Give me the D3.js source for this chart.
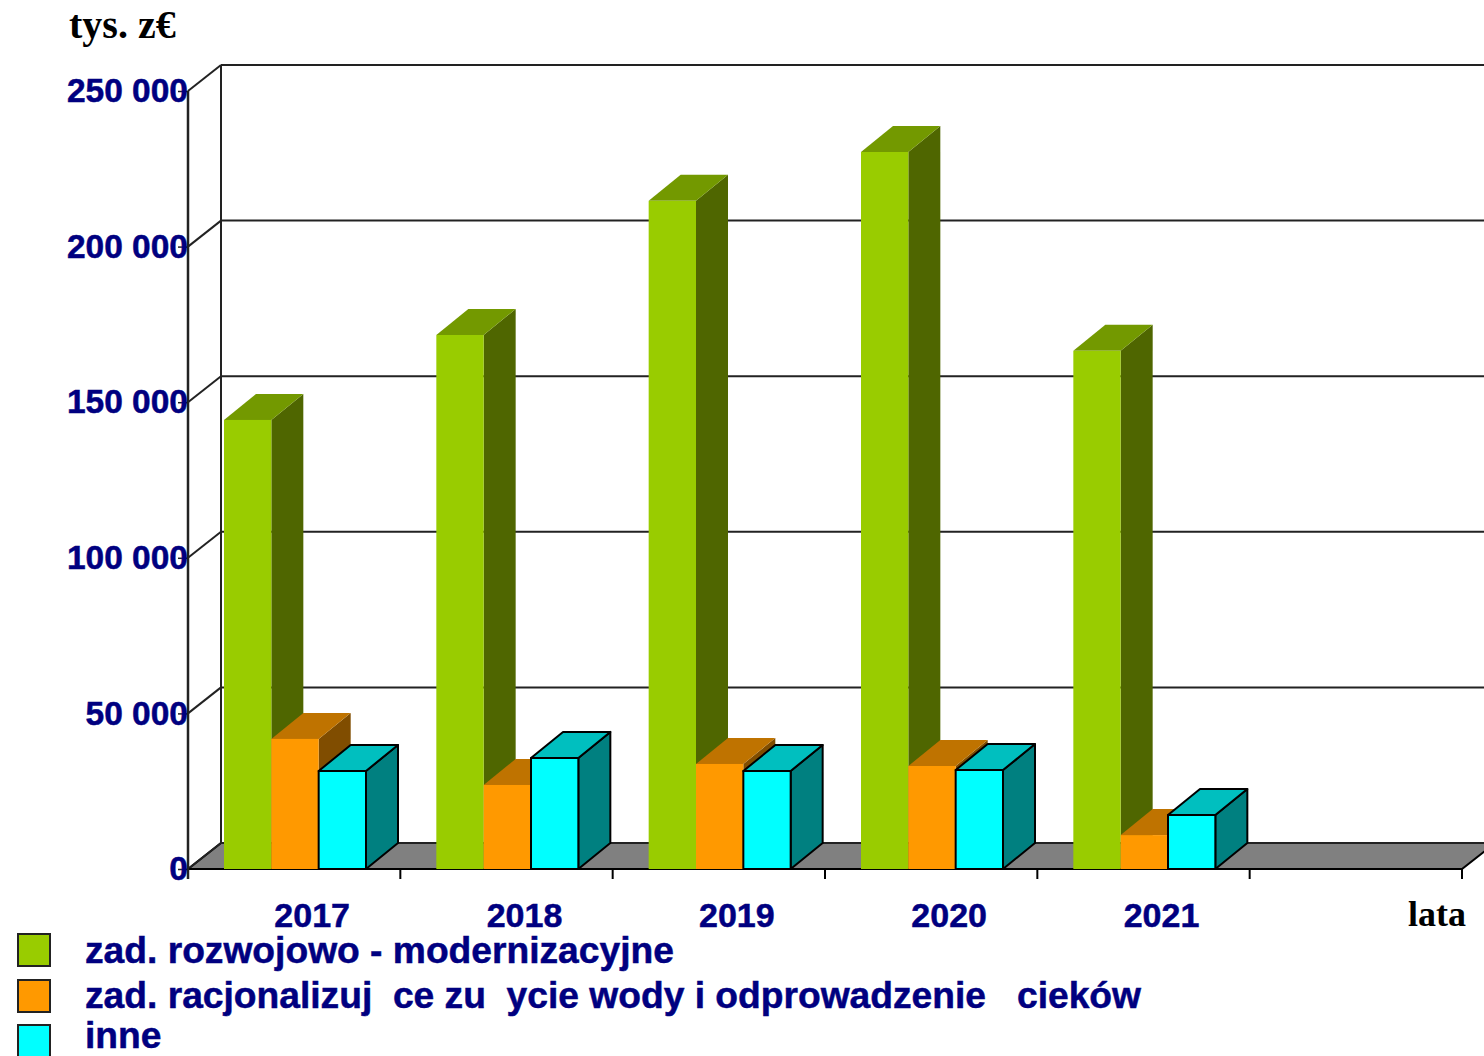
<!DOCTYPE html>
<html>
<head>
<meta charset="utf-8">
<style>
    html, body { margin: 0; padding: 0; background: #fff; overflow: hidden; }
    svg { display: block; }
    .sans { font-family: "Liberation Sans", Arial, sans-serif; font-weight: bold; fill: #000080; stroke: #000080; stroke-width: 0.5px; }
    .serif { font-family: "Liberation Serif", "Times New Roman", serif; font-weight: bold; fill: #000; }
</style>
<script src="https://cdn.jsdelivr.net/npm/d3@7"></script>
</head>
<body>
<div id="chart"></div>
<script>
const categories = ["2017", "2018", "2019", "2020", "2021", ""]
const rozwojowe = [144300, 171600, 214700, 230400, 166500]
const racjonalizujace = [41800, 27000, 33750, 33100, 10900]
const inne = [31500, 35700, 31500, 31800, 17350]
const yTicks = [0, 50000, 100000, 150000, 200000, 250000]
const seriesNames = [
    "zad. rozwojowo - modernizacyjne",
    "zad. racjonalizuj  ce zu  ycie wody i odprowadzenie   cieków",
    "inne"
]
const yTitle = "tys. z€"
const xTitle = "lata"

const series = [
    { name: seriesNames[0], values: rozwojowe, front: "#99cc00", side: "#4f6600", top: "#739900", outline: "none" },
    { name: seriesNames[1], values: racjonalizujace, front: "#ff9900", side: "#804d00", top: "#bf7300", outline: "none" },
    { name: seriesNames[2], values: inne, front: "#00ffff", side: "#008080", top: "#00bfbf", outline: "#000" }
]

const width = 1484
const height = 1056

// Front plane of the fake 3d box, and how far the back wall is shifted from it
const plot = { left: 188, right: 1462, top: 91, bottom: 869 }
const wall = { dx: 33, dy: 26 }
const bar = { dx: 32, dy: 26 }

const x = d3.scaleBand().domain(categories).range([plot.left, plot.right])
const inner = d3.scaleBand().domain(d3.range(series.length)).range([36, 178])
const y = d3.scaleLinear().domain([0, 250000]).range([plot.bottom, plot.top])

const svg = d3.select("#chart")
    .append("svg")
    .attr("width", width)
    .attr("height", height)
    .attr("viewBox", `0 0 ${width} ${height}`)

// Floor
svg.append("polygon")
    .attr("points", [
        [plot.left, plot.bottom],
        [plot.left + wall.dx, plot.bottom - wall.dy],
        [plot.right + wall.dx, plot.bottom - wall.dy],
        [plot.right, plot.bottom]
    ].join(" "))
    .attr("fill", "#808080")
    .attr("stroke", "#000")
    .attr("stroke-width", 2)

// Back wall gridlines and their returns along the side wall
const grid = svg.append("g").attr("stroke", "#222").attr("stroke-width", 2)
grid.selectAll(".back")
    .data(yTicks)
    .join("line")
    .attr("x1", plot.left + wall.dx)
    .attr("x2", width)
    .attr("y1", (d) => y(d) - wall.dy)
    .attr("y2", (d) => y(d) - wall.dy)
grid.selectAll(".side")
    .data(yTicks)
    .join("line")
    .attr("x1", plot.left)
    .attr("x2", plot.left + wall.dx)
    .attr("y1", (d) => y(d))
    .attr("y2", (d) => y(d) - wall.dy)
grid.append("line")
    .attr("x1", plot.left + wall.dx)
    .attr("x2", plot.left + wall.dx)
    .attr("y1", y(250000) - wall.dy)
    .attr("y2", plot.bottom - wall.dy)

// Axes
const xAxis = svg.append("g")
    .attr("transform", translate(0, plot.bottom))
    .call(d3.axisBottom(x).tickValues(categories.slice(0, 5)).tickSize(0).tickPadding(34))
xAxis.select(".domain").remove()
xAxis.selectAll("text")
    .attr("class", "sans")
    .attr("dx", 18)
    .style("font-size", "34px")

svg.append("g")
    .attr("stroke", "#000")
    .attr("stroke-width", 2)
    .selectAll("line")
    .data(d3.range(categories.length + 1))
    .join("line")
    .attr("x1", (i) => plot.left + i * x.step())
    .attr("x2", (i) => plot.left + i * x.step())
    .attr("y1", plot.bottom)
    .attr("y2", plot.bottom + 10)

// Bars, drawn left to right so each one covers the side of the previous one
const bars = svg.append("g")
categories.slice(0, 5).forEach((year, i) => {
    series.forEach((s, j) => {
        const x0 = x(year) + inner(j)
        const x1 = x0 + inner.bandwidth()
        const yTop = y(s.values[i])
        const g = bars.append("g")
            .attr("stroke", s.outline)
            .attr("stroke-width", 2)
            .attr("stroke-linejoin", "round")
        g.append("polygon")
            .attr("points", [[x1, yTop], [x1 + bar.dx, yTop - bar.dy], [x1 + bar.dx, plot.bottom - bar.dy], [x1, plot.bottom]].join(" "))
            .attr("fill", s.side)
        g.append("polygon")
            .attr("points", [[x0, yTop], [x0 + bar.dx, yTop - bar.dy], [x1 + bar.dx, yTop - bar.dy], [x1, yTop]].join(" "))
            .attr("fill", s.top)
        g.append("rect")
            .attr("x", x0)
            .attr("y", yTop)
            .attr("width", x1 - x0)
            .attr("height", plot.bottom - yTop)
            .attr("fill", s.front)
    })
})

// Front edge of the floor, then the value axis on top of everything
svg.append("line")
    .attr("x1", plot.left)
    .attr("x2", x("2017") + inner(0))
    .attr("y1", plot.bottom)
    .attr("y2", plot.bottom)
    .attr("stroke", "#000")
    .attr("stroke-width", 2)

const yAxis = svg.append("g")
    .attr("transform", translate(plot.left, 0))
    .call(d3.axisLeft(y)
        .tickValues(yTicks)
        .tickSize(10)
        .tickPadding(0)
        .tickFormat((d) => d3.format(",")(d).replace(",", " ")))
yAxis.select(".domain").attr("stroke", "#222").attr("stroke-width", 2.5)
    .attr("d", `M0,${plot.top}V${plot.bottom + 10}`)
yAxis.selectAll(".tick line").attr("stroke", "#222").attr("stroke-width", 1.5)
yAxis.selectAll(".tick text")
    .attr("class", "sans")
    .attr("x", 0)
    .style("font-size", "33.5px")

// Axis titles
svg.append("text")
    .attr("class", "serif")
    .attr("x", 69)
    .attr("y", 38)
    .style("font-size", "40px")
    .text(yTitle)
svg.append("text")
    .attr("class", "serif")
    .attr("x", 1408)
    .attr("y", 926)
    .style("font-size", "36px")
    .text(xTitle)

// Legend
const legendRowY = [934, 980, 1025]
const legendTextY = [963, 1008, 1048]
const legend = svg.append("g")
    .selectAll("g")
    .data(series)
    .join("g")
legend.append("rect")
    .attr("x", 18)
    .attr("y", (d, i) => legendRowY[i])
    .attr("width", 32)
    .attr("height", 32)
    .attr("fill", (d) => d.front)
    .attr("stroke", "#222")
    .attr("stroke-width", 2)
legend.append("text")
    .attr("class", "sans")
    .attr("x", 85)
    .attr("y", (d, i) => legendTextY[i])
    .style("white-space", "pre")
    .style("font-size", "37.2px")
    .text((d) => d.name)

// Translate string is easy to mistype
function translate(x, y) {
    return `translate(${x},${y})`
}
</script>
</body>
</html>
